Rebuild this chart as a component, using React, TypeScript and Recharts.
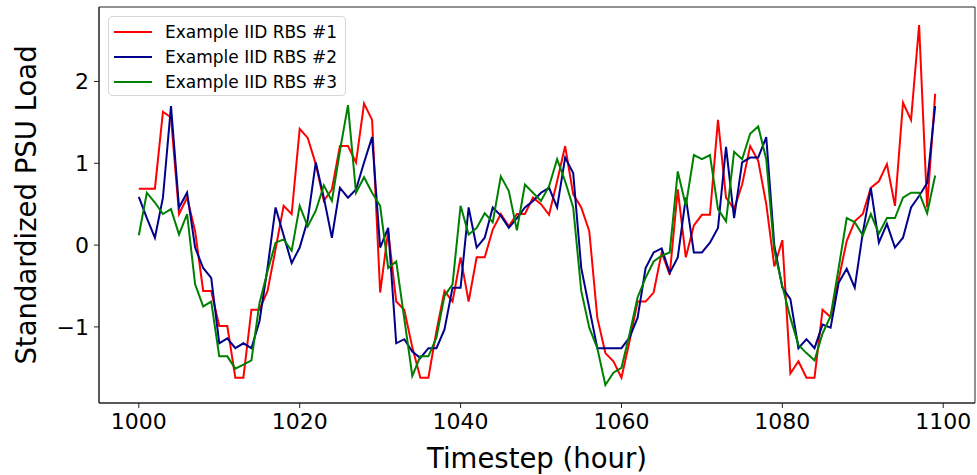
import React from 'react';
import { LineChart, Line, XAxis, YAxis, Legend, ReferenceArea } from 'recharts';

// hourly timesteps shown on the x axis
const hours = Array.from({ length: 100 }, (_, i) => 1000 + i);

const rbs1 = [
  0.69, 0.69, 0.69, 1.63, 1.56, 0.38, 0.58, 0.17, -0.56, -0.56,
  -0.99, -0.99, -1.62, -1.62, -0.79, -0.79, -0.56, -0.05, 0.48, 0.38,
  1.42, 1.31, 0.99, 0.54, 0.68, 1.21, 1.21, 1.01, 1.73, 1.53,
  -0.58, 0.17, -0.69, -0.79, -1.25, -1.62, -1.62, -1.05, -0.56, -0.69,
  -0.15, -0.69, -0.15, -0.15, 0.19, 0.38, 0.23, 0.38, 0.38, 0.58,
  0.5, 0.37, 0.78, 1.21, 0.62, 0.46, 0.17, -0.89, -1.32, -1.42,
  -1.62, -1.18, -0.69, -0.69, -0.58, -0.09, -0.36, 0.68, -0.15, 0.24,
  0.37, 0.37, 1.53, 0.58, 0.44, 0.74, 1.21, 1.03, 0.5, -0.26,
  0.06, -1.57, -1.42, -1.62, -1.62, -0.79, -0.88, -0.42, 0.05, 0.29,
  0.38, 0.7, 0.78, 0.99, 0.48, 1.74, 1.53, 2.69, 0.46, 1.85,
];

const rbs2 = [
  0.59, 0.33, 0.09, 0.58, 1.7, 0.46, 0.64, -0.03, -0.28, -0.4,
  -1.2, -1.14, -1.26, -1.2, -1.26, -0.93, -0.28, 0.46, 0.12, -0.22,
  -0.03, 0.31, 1.01, 0.58, 0.09, 0.7, 0.58, 0.68, 1.01, 1.32,
  -0.03, 0.21, -1.2, -1.15, -1.3, -1.38, -1.26, -1.26, -1.03, -0.52,
  -0.52, 0.46, -0.03, 0.09, 0.46, 0.36, 0.21, 0.33, 0.46, 0.54,
  0.64, 0.7, 0.46, 1.07, 0.88, -0.28, -0.77, -1.26, -1.26, -1.26,
  -1.26, -1.13, -0.89, -0.28, -0.09, -0.04, -0.34, -0.15, 0.58, -0.09,
  -0.09, 0.03, 0.21, 1.2, 0.33, 1.01, 1.07, 1.07, 1.32, 0.0,
  -0.52, -0.66, -1.26, -1.15, -1.26, -0.97, -1.01, -0.46, -0.29, -0.52,
  0.15, 0.7, 0.03, 0.26, -0.03, 0.09, 0.46, 0.6, 0.76, 1.7,
];

const rbs3 = [
  0.12, 0.64, 0.52, 0.38, 0.44, 0.13, 0.38, -0.48, -0.75, -0.69,
  -1.36, -1.36, -1.51, -1.46, -1.41, -0.71, -0.32, 0.03, 0.07, -0.07,
  0.48, 0.23, 0.42, 0.73, 0.54, 1.15, 1.71, 0.64, 0.83, 0.64,
  0.48, -0.28, -0.2, -0.9, -1.6, -1.36, -1.36, -1.13, -0.62, -0.48,
  0.48, 0.13, 0.21, 0.39, 0.28, 0.84, 0.66, 0.18, 0.74, 0.64,
  0.54, 0.72, 1.05, 0.78, 0.46, -0.56, -1.01, -1.26, -1.71, -1.56,
  -1.5, -1.09, -0.64, -0.4, -0.2, -0.13, -0.09, 0.9, 0.48, 1.1,
  1.05, 1.1, 0.44, 0.29, 1.14, 1.05, 1.36, 1.45, 1.05, -0.07,
  -0.5, -0.89, -1.22, -1.32, -1.41, -1.08, -0.87, -0.28, 0.33, 0.28,
  0.12, 0.38, 0.14, 0.33, 0.33, 0.58, 0.64, 0.64, 0.39, 0.85,
];

const seriesNames = ['Example IID RBS #1', 'Example IID RBS #2', 'Example IID RBS #3'];
const seriesKeys = ['rbs1', 'rbs2', 'rbs3'];
const seriesColors = ['#ff0000', '#00008b', '#008000'];

const xTicks = [1000, 1020, 1040, 1060, 1080, 1100];
const yTicks = [-1, 0, 1, 2];

const data = hours.map((hour, i) => ({ hour, rbs1: rbs1[i], rbs2: rbs2[i], rbs3: rbs3[i] }));

// matplotlib-style 5% margins around the data
const allValues = [...rbs1, ...rbs2, ...rbs3];
const yMin = Math.min(...allValues);
const yMax = Math.max(...allValues);
const yPad = (yMax - yMin) * 0.05;
const yDomain = [yMin - yPad, yMax + yPad];
const xPad = (hours[hours.length - 1] - hours[0]) * 0.05;
const xDomain = [hours[0] - xPad, hours[hours.length - 1] + xPad];

const FONT = 'DejaVu Sans, sans-serif';
const AXIS = '#222';

const fmtTick = (v: number) => (v < 0 ? '\u2212' + Math.abs(v) : String(v));

const XLabel = ({ viewBox }: any) => (
  <text
    x={viewBox.x + viewBox.width / 2}
    y={viewBox.y + 65}
    textAnchor="middle"
    fontSize={27.5}
    fontFamily={FONT}
    fill="#000"
  >
    Timestep (hour)
  </text>
);

const YLabel = ({ viewBox }: any) => {
  const x = viewBox.x + 36;
  const y = viewBox.y + viewBox.height / 2;
  return (
    <text
      x={x}
      y={y}
      transform={`rotate(-90, ${x}, ${y})`}
      textAnchor="middle"
      fontSize={27.5}
      fontFamily={FONT}
      fill="#000"
    >
      Standardized PSU Load
    </text>
  );
};

const LegendBox = () => (
  <div
    style={{
      border: '1px solid #d6d6d6',
      borderRadius: 4,
      background: 'rgba(255,255,255,0.8)',
      padding: '2px 8px 1px 5px',
      fontFamily: FONT,
      fontSize: 17,
    }}
  >
    {seriesNames.map((name, i) => (
      <div key={name} style={{ display: 'flex', alignItems: 'center', height: 25 }}>
        <span style={{ display: 'inline-block', width: 38, height: 2, background: seriesColors[i] }} />
        <span style={{ marginLeft: 13, color: '#000', whiteSpace: 'nowrap' }}>{name}</span>
      </div>
    ))}
  </div>
);

export default function App() {
  return (
    <div style={{ position: 'absolute', left: 0, top: 0, width: 977, height: 475, background: '#fff' }}>
      <LineChart width={977} height={475} data={data} margin={{ top: 7, right: 2, bottom: 0, left: 0 }}>
        <XAxis
          dataKey="hour"
          type="number"
          domain={xDomain}
          allowDataOverflow
          ticks={xTicks}
          height={72}
          tickSize={5}
          tickMargin={5}
          stroke={AXIS}
          tick={{ fontSize: 22, fill: '#000', fontFamily: FONT }}
          label={{ content: XLabel }}
        />
        <YAxis
          type="number"
          domain={yDomain}
          allowDataOverflow
          ticks={yTicks}
          width={99}
          tickSize={5}
          tickMargin={5}
          stroke={AXIS}
          tickFormatter={fmtTick}
          tick={{ fontSize: 22, fill: '#000', fontFamily: FONT }}
          label={{ content: YLabel }}
        />
        {/* frame around the plot area, like matplotlib's four spines */}
        <ReferenceArea
          x1={xDomain[0]}
          x2={xDomain[1]}
          y1={yDomain[0]}
          y2={yDomain[1]}
          fill="none"
          fillOpacity={0}
          stroke={AXIS}
          strokeWidth={1}
          ifOverflow="visible"
        />
        <Legend
          layout="vertical"
          align="center"
          verticalAlign="middle"
          wrapperStyle={{ top: 16, left: 108, width: 'auto' }}
          content={LegendBox}
        />
        {seriesKeys.map((key, i) => (
          <Line
            key={key}
            dataKey={key}
            name={seriesNames[i]}
            type="linear"
            stroke={seriesColors[i]}
            strokeWidth={2}
            dot={false}
            activeDot={false}
            isAnimationActive={false}
          />
        ))}
      </LineChart>
    </div>
  );
}
